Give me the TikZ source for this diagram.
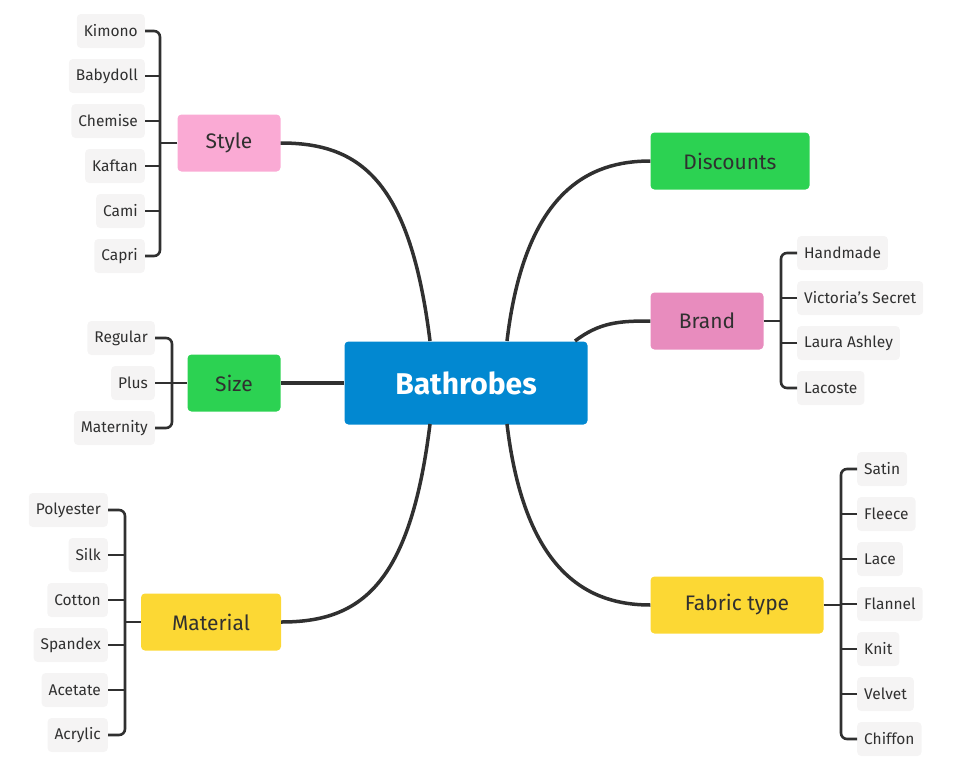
\documentclass[tikz,border=0pt]{standalone}
\usepackage{fontspec}
\setmainfont{Fira Sans}
\usetikzlibrary{positioning,calc}
\definecolor{rootblue}{RGB}{2,136,209}
\definecolor{lpink}{RGB}{250,170,212}
\definecolor{dpink}{RGB}{232,140,190}
\definecolor{mgreen}{RGB}{44,210,82}
\definecolor{myellow}{RGB}{252,216,52}
\definecolor{leafbg}{RGB}{245,244,244}
\definecolor{ink}{RGB}{48,48,48}
\tikzset{
  root/.style={fill=rootblue,rounded corners=4pt,minimum width=243pt,minimum height=83pt,text=white,font=\fontsize{30}{30}\selectfont\bfseries},
  topic/.style={rounded corners=4pt,minimum height=57pt,text=ink,font=\fontsize{21}{21}\selectfont},
  leaf/.style={fill=leafbg,rounded corners=4pt,minimum height=34pt,inner xsep=7pt,text=ink,font=\fontsize{15.5}{15.5}\selectfont},
  branch/.style={draw=ink,line width=3.5pt},
  twig/.style={draw=ink,line width=2.6pt,rounded corners=6pt}
}
\begin{document}
\begin{tikzpicture}[x=1pt,y=-1pt]
\useasboundingbox (0,0) rectangle (967,766);
\node[root] (root) at (466,383) {Bathrobes};
% topics
\node[topic,fill=lpink,minimum width=103pt] (style) at (229,143) {Style};
\node[topic,fill=mgreen,minimum width=93pt] (size) at (234,383) {Size};
\node[topic,fill=myellow,minimum width=140pt] (material) at (211,622) {Material};
\node[topic,fill=mgreen,minimum width=159pt] (discounts) at (730,161) {Discounts};
\node[topic,fill=dpink,minimum width=113pt] (brand) at (707,321) {Brand};
\node[topic,fill=myellow,minimum width=173pt] (fabric) at (737,605) {Fabric type};
% main branches
\draw[branch] (430,341) .. controls (410,180) and (360,143) .. (style.east);
\draw[branch] (root.west) -- (size.east);
\draw[branch] (430,424) .. controls (410,586) and (360,622) .. (material.east);
\draw[branch] (507,341) .. controls (525,190) and (590,161) .. (discounts.west);
\draw[branch] (575,341) .. controls (600,322) and (620,321) .. (brand.west);
\draw[branch] (507,424) .. controls (525,575) and (590,605) .. (fabric.west);
% leaves, left side
\foreach \t [count=\i] in {Kimono,Babydoll,Chemise,Kaftan,Cami,Capri}
  \node[leaf,anchor=east] (st\i) at (145,{31+45*(\i-1)}) {\t};
\foreach \t [count=\i] in {Regular,Plus,Maternity}
  \node[leaf,anchor=east] (sz\i) at (155,{338+45*(\i-1)}) {\t};
\foreach \t [count=\i] in {Polyester,Silk,Cotton,Spandex,Acetate,Acrylic}
  \node[leaf,anchor=east] (ma\i) at (108,{510+45*(\i-1)}) {\t};
% leaves, right side
\foreach \t [count=\i] in {Handmade,Victoria's Secret,Laura Ashley,Lacoste}
  \node[leaf,anchor=west] (br\i) at (797,{253+45*(\i-1)}) {\t};
\foreach \t [count=\i] in {Satin,Fleece,Lace,Flannel,Knit,Velvet,Chiffon}
  \node[leaf,anchor=west] (fa\i) at (857,{469+45*(\i-1)}) {\t};
% brackets
\draw[twig] (st1.east) -| (160,143) |- (st6.east);
\foreach \i in {2,...,5} \draw[twig] (st\i.east) -- (160,{31+45*(\i-1)});
\draw[twig] (style.west) -- (160,143);
\draw[twig] (sz1.east) -| (172,383) |- (sz3.east);
\draw[twig] (sz2.east) -- (size.west);
\draw[twig] (ma1.east) -| (125,622) |- (ma6.east);
\foreach \i in {2,...,5} \draw[twig] (ma\i.east) -- (125,{510+45*(\i-1)});
\draw[twig] (material.west) -- (125,622);
\draw[twig] (br1.west) -| (781,321) |- (br4.west);
\foreach \i in {2,3} \draw[twig] (br\i.west) -- (781,{253+45*(\i-1)});
\draw[twig] (brand.east) -- (781,321);
\draw[twig] (fa1.west) -| (841,605) |- (fa7.west);
\foreach \i in {2,...,6} \draw[twig] (fa\i.west) -- (841,{469+45*(\i-1)});
\draw[twig] (fabric.east) -- (841,605);
\end{tikzpicture}
\end{document}
